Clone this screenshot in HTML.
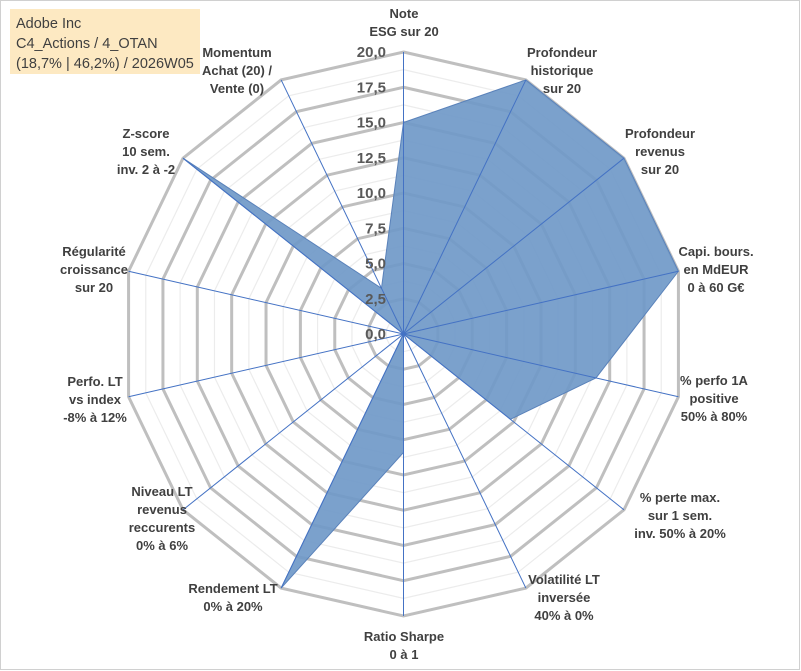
<!DOCTYPE html>
<html><head><meta charset="utf-8">
<style>
body{margin:0;background:#fff;}
#wrap{position:relative;width:801px;height:671px;overflow:hidden;font-family:"Liberation Sans",sans-serif;}
svg text{font-family:"Liberation Sans",sans-serif;}
</style></head>
<body>
<div id="wrap">
<svg id="chart" width="801" height="671">
<rect x="0.5" y="0.5" width="799" height="669" fill="#fff" stroke="#d0d0d0"/>
<rect x="10" y="9" width="190" height="65" fill="#fde9c2"/>
<text x="16" y="28" font-size="14.5" fill="#404040">Adobe Inc</text>
<text x="16" y="48" font-size="14.5" fill="#404040">C4_Actions / 4_OTAN</text>
<text x="16" y="68" font-size="14.5" fill="#404040">(18,7% | 46,2%) / 2026W05</text>
<g id="grid"></g><g id="series"></g><g id="ticks"></g><g id="labels"></g>
</svg>
</div>
<script>
const categories = [
 ["Note","ESG sur 20"],["Profondeur","historique","sur 20"],["Profondeur","revenus","sur 20"],
 ["Capi. bours.","en MdEUR","0 à 60 G€"],["% perfo 1A","positive","50% à 80%"],
 ["% perte max.","sur 1 sem.","inv. 50% à 20%"],["Volatilité LT","inversée","40% à 0%"],
 ["Ratio Sharpe","0 à 1"],["Rendement LT","0% à 20%"],["Niveau LT","revenus","reccurents","0% à 6%"],
 ["Perfo. LT","vs index","-8% à 12%"],["Régularité","croissance","sur 20"],
 ["Z-score","10 sem.","inv. 2 à -2"],["Momentum","Achat (20) /","Vente (0)"]
];
const values = [15, 20, 20, 20, 14, 9.7, 0, 8.4, 20, 0, 0, 0, 20, 3.6];
const tickValues = [0, 2.5, 5, 7.5, 10, 12.5, 15, 17.5, 20];
const tickLabels = ["0,0","2,5","5,0","7,5","10,0","12,5","15,0","17,5","20,0"];
const labelPos = [[404,13],[562,52],[660,133],[716,251],[714,380],[680,497],[564,579],[404,636],[233,588],[162,491],[95,381],[94,251],[146,133],[237,52]];

const NS="http://www.w3.org/2000/svg";
const cx=403.5, cy=334, R=282, maxV=20, N=categories.length;
function ang(i){return i*2*Math.PI/N;}
function pt(i,v){const r=v/maxV*R;return [cx+r*Math.sin(ang(i)), cy-r*Math.cos(ang(i))];}
function mk(tag,attrs,parent){const e=document.createElementNS(NS,tag);for(const k in attrs)e.setAttribute(k,attrs[k]);parent.appendChild(e);return e;}
const grid=document.getElementById('grid');
for(let k=1;k<=16;k++){
 const v=k*1.25;
 const pts=[];for(let i=0;i<N;i++)pts.push(pt(i,v).join(','));
 const major=k%2===0;
 const p=mk('polygon',{points:pts.join(' '),fill:'none',stroke:major?'#bfbfbf':'#ececec','stroke-width':major?3:1.2},grid);
 
 
}
const ser=document.getElementById('series');
const sp=values.map((v,i)=>pt(i,v).join(',')).join(' ');
const poly=mk('polygon',{points:sp,fill:'#7099c8','fill-opacity':'0.92',stroke:'#5a82ba','stroke-width':1},ser);


for(let i=0;i<N;i++){
 const [x,y]=pt(i,maxV);
 const l=mk('line',{x1:cx,y1:cy,x2:x,y2:y,stroke:'#4472c4','stroke-width':1},ser);
 
 
}
const tk=document.getElementById('ticks');
tickValues.forEach((v,j)=>{
 const y=cy-v/maxV*R;
 const t=mk('text',{x:386,y:y+5,'text-anchor':'end','font-size':15,'font-weight':'bold',fill:'#595959'},tk);
 t.textContent=tickLabels[j];
 
 
});
const lb=document.getElementById('labels');
categories.forEach((lines,i)=>{
 const [x,y]=labelPos[i];
 lines.forEach((s,j)=>{
  const t=mk('text',{x:x,y:y+j*18+5,'text-anchor':'middle','font-size':13,'font-weight':'bold',fill:'#404040'},lb);
  t.textContent=s;
  
  
 });
});
</script>
</body></html>
